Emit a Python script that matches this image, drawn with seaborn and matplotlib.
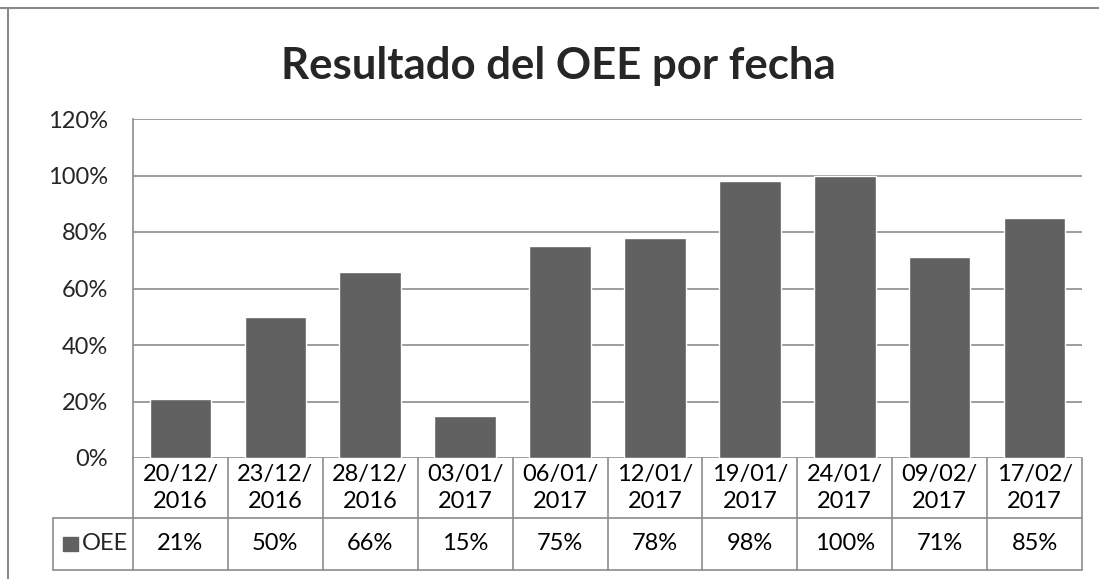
import matplotlib
matplotlib.use("Agg")
import matplotlib.pyplot as plt
import matplotlib.transforms as mtransforms
from matplotlib.lines import Line2D
from matplotlib.patches import Rectangle
import numpy as np
import pandas as pd
import seaborn as sns

# data
fechas = ["20/12/\n2016", "23/12/\n2016", "28/12/\n2016", "03/01/\n2017", "06/01/\n2017",
          "12/01/\n2017", "19/01/\n2017", "24/01/\n2017", "09/02/\n2017", "17/02/\n2017"]
oee = [0.21, 0.50, 0.66, 0.15, 0.75, 0.78, 0.98, 1.00, 0.71, 0.85]
serie = "OEE"
titulo = "Resultado del OEE por fecha"
yticks = [0, 0.2, 0.4, 0.6, 0.8, 1.0, 1.2]

df = pd.DataFrame(dict(fecha=fechas, oee=oee))

sns.set_theme(style="white")
plt.rcParams["font.family"] = ["Lato", "DejaVu Sans"]

W, H = 1099, 579
fig = plt.figure(figsize=(W / 100, H / 100), dpi=100)

# plot area in pixels: x 133..1082, y 119..458
ax = fig.add_axes([133 / W, (H - 458) / H, 949 / W, 339 / H])

bar_color = "#616161"
line_color = "#8c8c8c"
fs = 17

sns.barplot(data=df, x="fecha", y="oee", color=bar_color, width=0.65,
            saturation=1, ax=ax, zorder=3)

ax.set_xlim(-0.5, len(fechas) - 0.5)
ax.set_ylim(0, 1.2)
ax.set_yticks(yticks)
ax.set_yticklabels([f"{int(round(v * 100))}%" for v in yticks], fontsize=fs)
ax.tick_params(axis="y", length=0, pad=18)
ax.set_xticks([])
ax.set_xlabel("")
ax.set_ylabel("")
for v in yticks:
    ax.axhline(v, color=line_color, lw=1.2, zorder=1)
for side in ["top", "right", "bottom"]:
    ax.spines[side].set_visible(False)
ax.spines["left"].set_color(line_color)
ax.spines["left"].set_linewidth(1.2)

# data table below the axes
trans = mtransforms.blended_transform_factory(ax.transData, ax.transAxes)
px = lambda py: (458 - py) / 339  # pixel row -> axes y
y_row1 = px(518)
y_row2 = px(570)
x_leg = -0.5 + (53 - 133) / (949 / len(fechas))

def seg(x0, x1, y0, y1):
    ax.add_line(Line2D([x0, x1], [y0, y1], transform=trans, color=line_color,
                       lw=1.2, clip_on=False))

n = len(fechas)
seg(-0.5, -0.5, 0, y_row2)
for i in range(n):
    seg(i + 0.5, i + 0.5, 0, y_row2)
seg(x_leg, n - 0.5, y_row1, y_row1)
seg(x_leg, n - 0.5, y_row2, y_row2)
seg(x_leg, x_leg, y_row1, y_row2)

for i, (f, v) in enumerate(zip(fechas, oee)):
    ax.text(i, (0 + y_row1) / 2, f, transform=trans, ha="center", va="center",
            fontsize=fs, linespacing=1.3, color="black")
    ax.text(i, (y_row1 + y_row2) / 2, f"{int(round(v * 100))}%", transform=trans,
            ha="center", va="center", fontsize=fs, color="black")

# legend key in the table
fig.patches.append(Rectangle((63 / W, (H - 551) / H), 15 / W, 14 / H,
                             transform=fig.transFigure, color=bar_color))
fig.text(82 / W, (H - 544) / H, serie, ha="left", va="center", fontsize=fs)

fig.text(558 / W, (H - 66) / H, titulo, ha="center", va="center",
         fontsize=31.5, fontweight="bold")

# chart frame (top and left edges visible)
fig.add_artist(Line2D([0, 1], [(H - 8) / H] * 2, transform=fig.transFigure,
                      color="#8a8a8a", lw=1.5))
fig.add_artist(Line2D([8 / W] * 2, [0, (H - 8) / H], transform=fig.transFigure,
                      color="#8a8a8a", lw=1.5))

fig.savefig("out.png", dpi=100)
